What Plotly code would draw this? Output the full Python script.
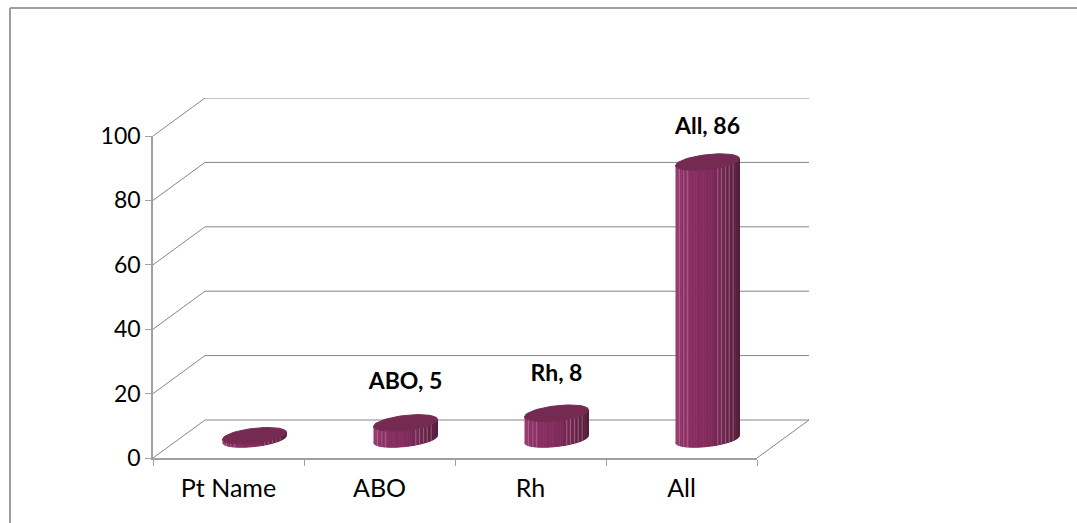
import math
import plotly.graph_objects as go

# Chart data
categories = ["Pt Name", "ABO", "Rh", "All"]
values = [1, 5, 8, 86]
point_labels = ["", "ABO, 5", "Rh, 8", "All, 86"]
y_ticks = [0, 20, 40, 60, 80, 100]

# Canvas and plot geometry, in pixels
W, H = 1077, 523
LEFT, RIGHT, TOP, BOTTOM = 153, 757, 136, 458
DEPTH_PX_X, DEPTH_PX_Y = 52, 38
UX = (RIGHT - LEFT) / len(categories)   # pixels per category
UY = (BOTTOM - TOP) / 100               # pixels per value unit

# Oblique depth of the floor and walls, in data units
DEPTH_X = DEPTH_PX_X / UX
DEPTH_Y = DEPTH_PX_Y / UY

# Cylinder shape, in data units
RX = 32 / UX
RY = 7.5 / UY
TILT = 3.5 / UY
STRIPS = 30
label_lift = [0, 40 / UY, 38 / UY, 34 / UY]

GRID = "#868686"
AXIS = "#a0a0a0"
TOP_CAP = "#752a52"
SEAM = "#c888ab"

# Side shading from the left edge to the right edge of a cylinder
SHADE_STOPS = [
    (0.00, (150, 60, 112)),
    (0.12, (140, 48, 100)),
    (0.50, (130, 42, 92)),
    (0.75, (108, 36, 76)),
    (1.00, (82, 30, 58)),
]

# Positions of the pale seams across the side wall, left to right
SEAMS = (0.06, 0.13, 0.19, 0.66, 0.72, 0.78, 0.84, 0.9)


def shade(f):
    for (f0, c0), (f1, c1) in zip(SHADE_STOPS, SHADE_STOPS[1:]):
        if f <= f1:
            m = (f - f0) / (f1 - f0)
            r, g, b = (round(a + (b - a) * m) for a, b in zip(c0, c1))
            return f"rgb({r},{g},{b})"
    return "rgb(82,30,58)"


def rim(cx, level, t):
    """Point on a tilted ellipse; t runs around the cylinder axis."""
    return (cx + RX * math.cos(t), level + RY * math.sin(t) + TILT * math.cos(t))


fig = go.Figure()


def fill_trace(xs, ys, color):
    fig.add_trace(go.Scatter(x=xs, y=ys, xaxis="x2", yaxis="y2", mode="lines", fill="toself",
                             fillcolor=color, hoverinfo="skip", showlegend=False,
                             line=dict(color=color, width=1)))


# Back wall gridlines with their oblique run to the value axis, on the wider hidden axes
n = len(categories)
for v in y_ticks:
    fig.add_trace(go.Scatter(x=[0, DEPTH_X, n + DEPTH_X], y=[v, v + DEPTH_Y, v + DEPTH_Y],
                             mode="lines", hoverinfo="skip", showlegend=False,
                             line=dict(color=GRID, width=1)))
fig.add_trace(go.Scatter(x=[n, n + DEPTH_X], y=[0, DEPTH_Y], mode="lines", hoverinfo="skip",
                         showlegend=False, line=dict(color=GRID, width=1)))

# Data labels
fig.add_trace(go.Scatter(
    x=[i + 0.5 + DEPTH_X / 2 for i in range(n)],
    y=[DEPTH_Y / 2 + v + lift for v, lift in zip(values, label_lift)],
    text=point_labels, mode="text", cliponaxis=False,
    hoverinfo="skip", showlegend=False, textposition="middle center",
    textfont=dict(family="Lato", size=23, color="#000000", weight="bold"),
))

# Cylinders
for i, value in enumerate(values):
    cx = i + 0.5 + DEPTH_X / 2
    base = DEPTH_Y / 2
    top = base + value
    for s in range(STRIPS):
        # Strips run from the left edge round the front to the right edge
        f0, f1 = s / STRIPS, (s + 1) / STRIPS
        t0 = math.pi + math.acos(1 - 2 * f0)
        t1 = math.pi + math.acos(1 - 2 * f1)
        arc = [t0 + (t1 - t0) * k / 3 for k in range(4)]
        lower = [rim(cx, base, t) for t in arc]
        upper = [rim(cx, top, t) for t in reversed(arc)]
        pts = lower + upper
        fill_trace([p[0] for p in pts], [p[1] for p in pts], shade((f0 + f1) / 2))
    for frac in SEAMS:
        t = math.pi + math.acos(1 - 2 * frac)
        a, b = rim(cx, base, t), rim(cx, top, t)
        fig.add_trace(go.Scatter(x=[a[0], b[0]], y=[a[1], b[1]], xaxis="x2", yaxis="y2",
                                 mode="lines", hoverinfo="skip", showlegend=False,
                                 opacity=0.55, line=dict(color=SEAM, width=1)))
    # Top cap
    ring = [rim(cx, top, 2 * math.pi * k / 60) for k in range(61)]
    fill_trace([p[0] for p in ring], [p[1] for p in ring], TOP_CAP)

fig.update_layout(
    width=W, height=H,
    margin=dict(l=0, r=0, t=0, b=0, autoexpand=False),
    paper_bgcolor="#ffffff", plot_bgcolor="rgba(0,0,0,0)",
    showlegend=False,
    # Hidden axes spanning floor and back wall
    xaxis=dict(
        domain=[LEFT / W, (RIGHT + DEPTH_PX_X) / W], range=[0, n + DEPTH_X],
        visible=False, automargin=False, fixedrange=True,
    ),
    yaxis=dict(
        domain=[1 - BOTTOM / H, 1 - (TOP - DEPTH_PX_Y) / H], range=[0, 100 + DEPTH_Y],
        visible=False, automargin=False, fixedrange=True,
    ),
    # Front axes carrying ticks, labels and cylinders
    xaxis2=dict(
        domain=[LEFT / W, RIGHT / W], range=[0, n], anchor="y2", automargin=False,
        showgrid=False, zeroline=False,
        showline=True, linecolor=AXIS, linewidth=1.5,
        tickmode="array", tickvals=[i + 0.5 for i in range(n)], ticktext=categories,
        ticks="", ticklabelstandoff=7,
        tickfont=dict(family="Lato", size=25, color="#000000"),
        minor=dict(tickmode="linear", tick0=0, dtick=1, ticks="outside",
                   ticklen=6, tickwidth=1, tickcolor=AXIS, showgrid=False),
    ),
    yaxis2=dict(
        domain=[1 - BOTTOM / H, 1 - TOP / H], range=[0, 100], anchor="x2", automargin=False,
        showgrid=False, zeroline=False,
        showline=True, linecolor=AXIS, linewidth=1.5,
        tickmode="array", tickvals=y_ticks,
        ticks="outside", ticklen=6, tickwidth=1, tickcolor=AXIS,
        tickfont=dict(family="Lato", size=23, color="#000000"),
    ),
    shapes=[
        dict(type="line", xref="paper", yref="paper", x0=10 / W, x1=1, y0=1 - 8 / H, y1=1 - 8 / H,
             line=dict(color="#9e9e9e", width=2)),
        dict(type="line", xref="paper", yref="paper", x0=10 / W, x1=10 / W, y0=1 - 8 / H, y1=0,
             line=dict(color="#9e9e9e", width=2)),
    ],
)

fig.write_html("out.html")
